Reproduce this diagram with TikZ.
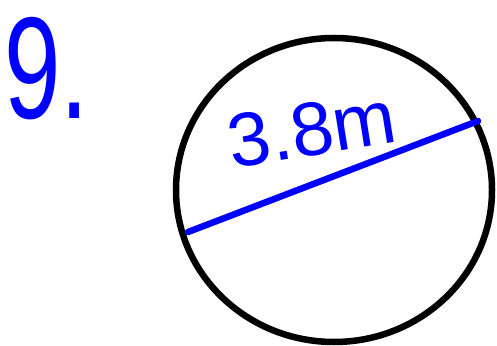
\documentclass[tikz,border=0pt]{standalone}
\usepackage{fontspec}
\setmainfont{Liberation Sans}
\usepackage{tikz}

\tikzset{
  ink/.style={blue, line width=6.5pt, line cap=round, line join=round},
  pen/.style={text=blue, inner sep=0pt}
}

\begin{document}
\begin{tikzpicture}[x=1pt, y=1pt]

\useasboundingbox (0,0) rectangle (497,345);

% Question number
\node[pen, anchor=base west, xscale=0.7, font=\fontsize{145}{145}\selectfont] (qnum) at (4,226) {9.};

% Circle
\coordinate (centre) at (334,155);
\draw[black, line width=6.5pt] (centre) ellipse (158 and 152);

% Diameter
\coordinate (dleft) at (188,113);
\coordinate (dright) at (478,224);
\draw[ink] (dleft) -- (dright);

% Length label
\node[pen, rotate=9, font=\fontsize{76}{76}\selectfont] (dlabel) at (312,216) {3.8m};

\end{tikzpicture}
\end{document}
